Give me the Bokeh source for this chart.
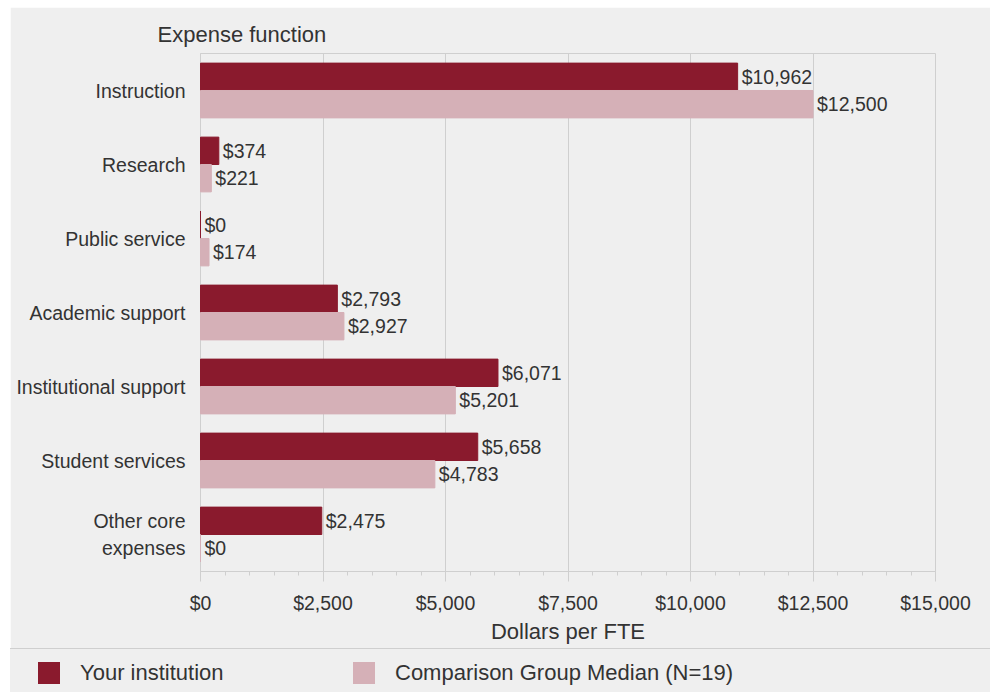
from bokeh.plotting import figure
from bokeh.models import (FactorRange, Range1d, NumeralTickFormatter, FixedTicker,
                          ColumnDataSource, Div)
from bokeh.layouts import column
from bokeh.transform import dodge
from bokeh.embed import file_html
from bokeh.resources import INLINE
from bokeh.core.properties import value

# ---- data ----
categories = ["Instruction", "Research", "Public service", "Academic support",
              "Institutional support", "Student services", "Other core\nexpenses"]
your_institution = [10962, 374, 0, 2793, 6071, 5658, 2475]
comparison_median = [12500, 221, 174, 2927, 5201, 4783, 0]
x_ticks = [0, 2500, 5000, 7500, 10000, 12500, 15000]
series_names = ["Your institution", "Comparison Group Median (N=19)"]

FONT = "Liberation Sans"
DARK = "#8a1a2d"
LIGHT = "#d5b0b7"
BG = "#efefef"
TXT = "#333333"
GRID = "#cfcfcf"

src = ColumnDataSource(dict(
    cat=categories,
    yours=your_institution,
    median=comparison_median,
    yours_lbl=[f"${v:,}" for v in your_institution],
    median_lbl=[f"${v:,}" for v in comparison_median],
))

p = figure(width=980, height=641,
           y_range=FactorRange(factors=categories[::-1]),
           x_range=Range1d(0, 15000),
           output_backend="svg", toolbar_location=None,
           min_border_left=190, min_border_right=55,
           min_border_top=46, min_border_bottom=77,
           background_fill_color=BG, border_fill_color=BG,
           outline_line_color=GRID, title="Expense function")
p.margin = (7, 0, 0, 10)

p.title.align = "left"
p.title.offset = -43
p.title.standoff = 14
p.title.text_font = FONT
p.title.text_font_size = "22px"
p.title.text_font_style = "normal"
p.title.text_color = TXT

bh = 0.37
p.hbar(y=dodge("cat", bh / 2, range=p.y_range), right="yours", height=bh,
       source=src, fill_color=DARK, line_color=DARK, line_width=1, level="overlay")
p.hbar(y=dodge("cat", -bh / 2, range=p.y_range), right="median", height=bh,
       source=src, fill_color=LIGHT, line_color=LIGHT, line_width=1, level="overlay")

p.text(x="yours", y=dodge("cat", bh / 2, range=p.y_range), text="yours_lbl",
       source=src, x_offset=4, text_baseline="middle", text_align="left",
       text_font=value(FONT), text_font_size="19.5px", text_color=TXT)
p.text(x="median", y=dodge("cat", -bh / 2, range=p.y_range), text="median_lbl",
       source=src, x_offset=4, text_baseline="middle", text_align="left",
       text_font=value(FONT), text_font_size="19.5px", text_color=TXT)

# x axis
p.xaxis.ticker = FixedTicker(ticks=x_ticks, minor_ticks=list(range(0, 15001, 500)))
p.xaxis.formatter = NumeralTickFormatter(format="$0,0")
p.xaxis.axis_label = "Dollars per FTE"
p.xaxis.axis_label_text_font = FONT
p.xaxis.axis_label_text_font_size = "22px"
p.xaxis.axis_label_text_font_style = "normal"
p.xaxis.axis_label_text_color = TXT
p.xaxis.axis_label_standoff = 2
p.xaxis.major_label_text_font = FONT
p.xaxis.major_label_text_font_size = "19.5px"
p.xaxis.major_label_text_color = TXT
p.xaxis.major_label_standoff = 10
p.xaxis.axis_line_color = GRID
p.xaxis.major_tick_line_color = GRID
p.xaxis.minor_tick_line_color = GRID
p.xaxis.major_tick_out = 10
p.xaxis.major_tick_in = 0
p.xaxis.minor_tick_out = 4
p.xaxis.minor_tick_in = 0

# y axis
p.yaxis.major_label_text_font = FONT
p.yaxis.major_label_text_font_size = "19.5px"
p.yaxis.major_label_text_color = TXT
p.yaxis.major_label_standoff = 9
p.yaxis.major_tick_line_color = None
p.yaxis.minor_tick_line_color = None
p.yaxis.axis_line_color = GRID

p.ygrid.grid_line_color = None
p.xgrid.grid_line_color = GRID
p.xgrid.ticker = FixedTicker(ticks=x_ticks)

# legend strip
def swatch(left, color):
    return (f'<span style="position:absolute;left:{left}px;top:13px;width:22px;'
            f'height:22px;background:{color};"></span>')

def lab(left, text):
    return (f'<span style="position:absolute;left:{left}px;top:13px;height:22px;'
            f'line-height:22px;white-space:nowrap;">{text}</span>')

html = (f'<div style="position:relative;width:980px;height:44px;background:{BG};'
        f'border-top:1.5px solid {GRID};box-sizing:border-box;'
        f'font-family:\'{FONT}\';font-size:22px;color:{TXT};">'
        + swatch(28, DARK) + lab(70, series_names[0])
        + swatch(343, LIGHT) + lab(385, series_names[1])
        + '</div>')
legend_div = Div(text=html, width=980, height=44, margin=(0, 0, 0, 10))

layout = column(p, legend_div, spacing=0)
open("out.html", "w").write(file_html(layout, INLINE))
